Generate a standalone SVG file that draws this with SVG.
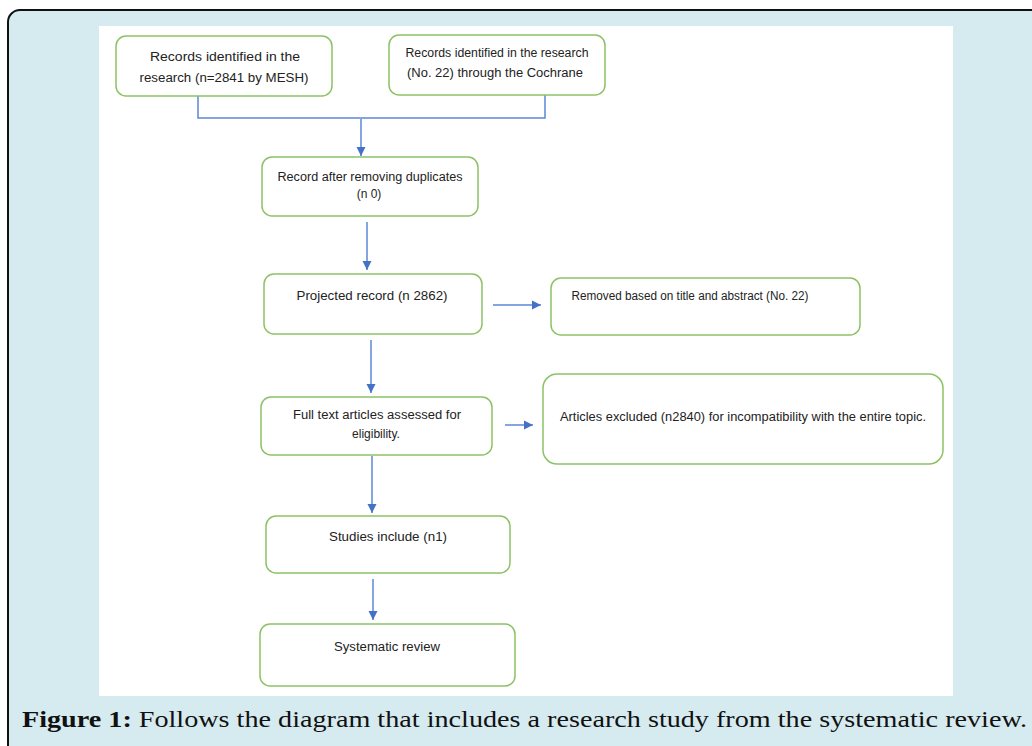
<svg xmlns="http://www.w3.org/2000/svg" width="1032" height="746" viewBox="0 0 1032 746">
<style>
.box{fill:#ffffff;stroke:#8cc265;stroke-width:1.5}
.t{font-family:"Liberation Sans",Arial,sans-serif;font-size:12px;fill:#222;text-anchor:middle}
.c{fill:none;stroke:#5b87d4;stroke-width:1.5}
.cap{font-family:"Liberation Serif","Times New Roman",serif;font-size:23px;fill:#111}
</style>
<defs>
<marker id="ah" markerWidth="10" markerHeight="10" refX="9" refY="5" orient="auto" markerUnits="userSpaceOnUse">
<path d="M0,0.5 L9,5 L0,9.5 Z" fill="#4472c4"/>
</marker>
</defs>
<rect x="8" y="10" width="1040" height="750" rx="12" fill="#d6ebf0" stroke="#111" stroke-width="2"/>
<rect x="99" y="26" width="854" height="670" fill="#ffffff"/>

<g id="connectors">
<path class="c" d="M198,96 V118 H545 V95"/>
<path class="c" d="M361,119 V156" marker-end="url(#ah)"/>
<path class="c" d="M367,222 V270" marker-end="url(#ah)"/>
<path class="c" d="M493,305 H541" marker-end="url(#ah)"/>
<path class="c" d="M371,340 V393" marker-end="url(#ah)"/>
<path class="c" d="M505,425 H533" marker-end="url(#ah)"/>
<path class="c" d="M372,456 V513" marker-end="url(#ah)"/>
<path class="c" d="M373,579 V620" marker-end="url(#ah)"/>
</g>

<g id="n1">
<rect class="box" x="116" y="36" width="216" height="60" rx="10"/>
<text class="t" x="225" y="61" textLength="150" lengthAdjust="spacingAndGlyphs">Records identified in the</text>
<text class="t" x="224" y="82" textLength="169" lengthAdjust="spacingAndGlyphs">research (n=2841 by MESH)</text>
</g>
<g id="n2">
<rect class="box" x="389" y="35" width="216" height="60" rx="10"/>
<text class="t" x="497" y="57" textLength="183" lengthAdjust="spacingAndGlyphs">Records identified in the research</text>
<text class="t" x="495" y="77" textLength="176" lengthAdjust="spacingAndGlyphs">(No. 22) through the Cochrane</text>
</g>
<g id="n3">
<rect class="box" x="262" y="157" width="216" height="59" rx="10"/>
<text class="t" x="370" y="181" textLength="185" lengthAdjust="spacingAndGlyphs">Record after removing duplicates</text>
<text class="t" x="369" y="198">(n 0)</text>
</g>
<g id="n4">
<rect class="box" x="264" y="274" width="218" height="60" rx="10"/>
<text class="t" x="372" y="300" textLength="151" lengthAdjust="spacingAndGlyphs">Projected record (n 2862)</text>
</g>
<g id="n5">
<rect class="box" x="551" y="278" width="309" height="57" rx="10"/>
<text class="t" x="690" y="300" textLength="237" lengthAdjust="spacingAndGlyphs">Removed based on title and abstract (No. 22)</text>
</g>
<g id="n6">
<rect class="box" x="261" y="397" width="231" height="58" rx="10"/>
<text class="t" x="377" y="419" textLength="168" lengthAdjust="spacingAndGlyphs">Full text articles assessed for</text>
<text class="t" x="376" y="438">eligibility.</text>
</g>
<g id="n7">
<rect class="box" x="543" y="374" width="400" height="90" rx="14"/>
<text class="t" x="743" y="421" textLength="366" lengthAdjust="spacingAndGlyphs">Articles excluded (n2840) for incompatibility with the entire topic.</text>
</g>
<g id="n8">
<rect class="box" x="266" y="516" width="244" height="57" rx="10"/>
<text class="t" x="388" y="541" textLength="118" lengthAdjust="spacingAndGlyphs">Studies include (n1)</text>
</g>
<g id="n9">
<rect class="box" x="260" y="624" width="255" height="62" rx="10"/>
<text class="t" x="387" y="651" textLength="106" lengthAdjust="spacingAndGlyphs">Systematic review</text>
</g>

<text class="cap" x="22" y="727" textLength="1005" lengthAdjust="spacingAndGlyphs"><tspan font-weight="bold">Figure 1:</tspan> Follows the diagram that includes a research study from the systematic review.</text>
</svg>
